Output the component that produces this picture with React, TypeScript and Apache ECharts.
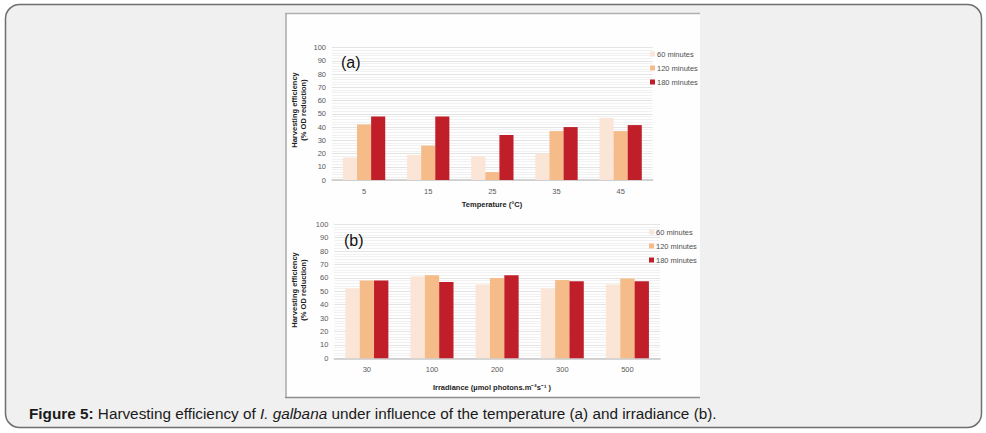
import React, { useEffect, useRef } from "react";
import * as echarts from "echarts";

// Panel (a): harvesting efficiency vs temperature
const temperatures = ["5", "15", "25", "35", "45"];
const temp60 = [17, 19, 18, 20, 47];
const temp120 = [42, 26, 6, 37, 37];
const temp180 = [48, 48, 34, 40, 41.5];

// Panel (b): harvesting efficiency vs irradiance
const irradiances = ["30", "100", "200", "300", "500"];
const irr60 = [52, 61, 55, 52, 55];
const irr120 = [58, 62, 60, 58.5, 59.5];
const irr180 = [58, 57, 62, 57.5, 57.5];

const seriesNames = ["60 minutes", "120 minutes", "180 minutes"];
const seriesColors = ["#fbe5d6", "#f5bc8a", "#c01f29"];

const FONT = "'Liberation Sans', Arial, sans-serif";

export default function App() {
  const ref = useRef<HTMLDivElement>(null);

  useEffect(() => {
    if (!ref.current) return;
    const chart = echarts.init(ref.current, null, { renderer: "svg" });

    const grids = [
      { left: 332, top: 47.7, width: 320.7, height: 132.3 },
      { left: 334.3, top: 224.3, width: 325.7, height: 134 },
    ];

    const yAxis = (gi: number) => ({
      type: "value",
      gridIndex: gi,
      min: 0,
      max: 100,
      interval: 10,
      axisLine: { show: false },
      axisTick: { show: false },
      axisLabel: { fontSize: 7.5, color: "#595959", fontFamily: FONT, margin: 6 },
      splitLine: { lineStyle: { color: "#e4e4e4", width: 1 } },
      minorTick: { show: false, splitNumber: 5 },
      minorSplitLine: { show: true, lineStyle: { color: "#f1f1f1", width: 1 } },
    });

    const xAxis = (gi: number, cats: string[]) => ({
      type: "category",
      gridIndex: gi,
      data: cats,
      axisLine: { lineStyle: { color: "#c8c8c8", width: 1.5 } },
      axisTick: { show: false },
      axisLabel: { fontSize: 7.5, color: "#595959", fontFamily: FONT, margin: 7 },
    });

    const bars = (gi: number, sets: number[][]) =>
      sets.map((d, i) => ({
        name: seriesNames[i],
        type: "bar",
        xAxisIndex: gi,
        yAxisIndex: gi,
        data: d,
        barGap: "0%",
        barCategoryGap: "34%",
        itemStyle: { color: seriesColors[i] },
      }));

    const legend = (left: number, top: number) => ({
      orient: "vertical",
      left,
      top,
      padding: 0,
      data: seriesNames,
      itemWidth: 5,
      itemHeight: 5,
      itemGap: 6,
      icon: "rect",
      textStyle: { fontSize: 7.5, color: "#505050", fontFamily: FONT, padding: [0, 0, 0, -3] },
    });

    const yTitle = (x: number, y: number) => ({
      type: "text",
      x,
      y,
      z: 100,
      rotation: Math.PI / 2,
      style: {
        text: "Harvesting efficiency\n(% OD reduction)",
        fontSize: 7.5,
        fontWeight: "bold",
        fontFamily: FONT,
        fill: "#222",
        align: "center",
        verticalAlign: "middle",
        lineHeight: 8.5,
      },
    });

    const panelTag = (text: string, x: number, y: number) => ({
      type: "text",
      x,
      y,
      z: 100,
      style: { text, fontSize: 16, fontFamily: FONT, fill: "#111", verticalAlign: "middle" },
    });

    const xTitle = (text: string, y: number) => ({
      type: "text",
      x: 492,
      y,
      z: 100,
      style: {
        text,
        fontSize: 7.5,
        fontWeight: "bold",
        fontFamily: FONT,
        fill: "#222",
        align: "center",
        verticalAlign: "middle",
      },
    });

    chart.setOption({
      animation: false,
      color: seriesColors,
      grid: grids,
      xAxis: [xAxis(0, temperatures), xAxis(1, irradiances)],
      yAxis: [yAxis(0), yAxis(1)],
      legend: [legend(650, 50), legend(649, 228)],
      series: [...bars(0, [temp60, temp120, temp180]), ...bars(1, [irr60, irr120, irr180])],
      graphic: [
        {
          type: "rect",
          z: -10,
          silent: true,
          shape: { x: 5.5, y: 4.5, width: 976, height: 423, r: 14 },
          style: { fill: "#f0f0f0", stroke: "#6e6e6e", lineWidth: 1.5 },
        },
        {
          type: "rect",
          z: -9,
          silent: true,
          shape: { x: 285, y: 13, width: 415, height: 385 },
          style: { fill: "#fefefe" },
        },
        {
          type: "line",
          z: -8,
          silent: true,
          shape: { x1: 286, y1: 13, x2: 286, y2: 398 },
          style: { stroke: "#bdbdbd", lineWidth: 2 },
        },
        {
          type: "line",
          z: -8,
          silent: true,
          shape: { x1: 285, y1: 13.5, x2: 700, y2: 13.5 },
          style: { stroke: "#b0b0b0", lineWidth: 1.5 },
        },
        {
          type: "line",
          z: -8,
          silent: true,
          shape: { x1: 285, y1: 397.5, x2: 700, y2: 397.5 },
          style: { stroke: "#8e8e8e", lineWidth: 1.5 },
        },
        panelTag("(a)", 341, 62),
        panelTag("(b)", 344, 240),
        yTitle(299, 110),
        yTitle(299, 290),
        xTitle("Temperature (°C)", 204),
        xTitle("Irradiance (µmol photons.m⁻²s⁻¹ )", 387),
        {
          type: "text",
          x: 29,
          y: 413,
          z: 100,
          style: {
            text: "{b|Figure 5:} Harvesting efficiency of {i|I. galbana} under influence of the temperature (a) and irradiance (b).",
            fontSize: 15.3,
            fontFamily: FONT,
            fill: "#1a1a1a",
            verticalAlign: "middle",
            rich: {
              b: { fontSize: 15.3, fontWeight: "bold", fontFamily: FONT, fill: "#1a1a1a" },
              i: { fontSize: 15.3, fontStyle: "italic", fontFamily: FONT, fill: "#1a1a1a" },
            },
          },
        },
      ],
    });

    return () => chart.dispose();
  }, []);

  return (
    <div
      ref={ref}
      style={{ position: "absolute", left: 0, top: 0, width: 986, height: 433 }}
    />
  );
}
